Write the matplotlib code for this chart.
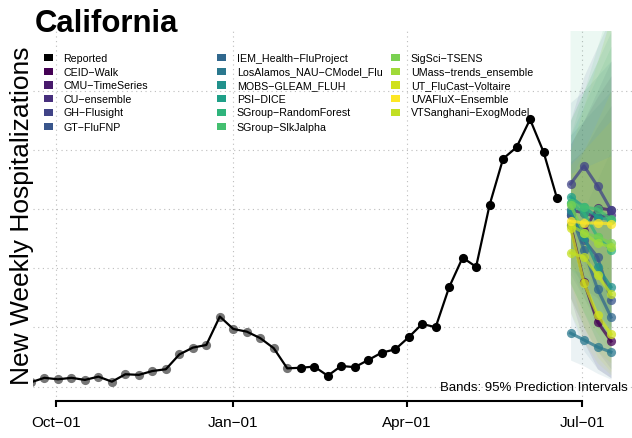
import matplotlib
matplotlib.use('Agg')
import matplotlib.pyplot as plt
import matplotlib.dates as mdates
from matplotlib.patches import Rectangle
import pandas as pd

plt.rcParams['font.family'] = ['Liberation Sans', 'DejaVu Sans']

# ---------------- data ----------------
reported_start = '2021-09-18'
reported = [15, 30, 25, 30, 23, 34, 17, 42, 40, 53,
            59, 109, 132, 141, 237, 195, 186, 164, 130, 62,
            64, 68, 37, 70, 66, 90, 115, 126, 167, 212,
            201, 336, 436, 405, 614, 770, 809, 903, 793, 636]
n_older = 20  # first points drawn in grey

forecast_start = '2022-06-25'
models = ['CEID−Walk', 'CMU−TimeSeries', 'CU−ensemble', 'GH−Flusight', 'GT−FluFNP',
          'IEM_Health−FluProject', 'LosAlamos_NAU−CModel_Flu', 'MOBS−GLEAM_FLUH',
          'PSI−DICE', 'SGroup−RandomForest', 'SGroup−SlkJalpha', 'SigSci−TSENS',
          'UMass−trends_ensemble', 'UT_FluCast−Voltaire', 'UVAFluX−Ensemble',
          'VTSanghani−ExogModel']
model_colors = ['#440154', '#481a6c', '#472f7d', '#414487', '#39568c', '#31688e',
                '#2a788e', '#21918c', '#1fa088', '#2fb47c', '#44bf70', '#7ad151',
                '#a0da39', '#d0e11c', '#fde725', '#c2df23']

median = [
    [546, 354, 219, 154],
    [580, 526, 604, 597],
    [597, 587, 573, 580],
    [685, 746, 678, 597],
    [580, 496, 438, 293],
    [587, 462, 330, 235],
    [181, 158, 134, 117],
    [597, 506, 404, 337],
    [641, 607, 573, 563],
    [621, 587, 506, 462],
    [621, 607, 600, 566],
    [614, 519, 506, 485],
    [546, 519, 485, 472],
    [536, 350, 242, 178],
    [560, 553, 553, 550],
    [452, 438, 377, 313],
]
lower95 = [
    [300, 150, 60, 30], [420, 330, 300, 250], [380, 300, 220, 160], [450, 420, 300, 200],
    [300, 200, 120, 60], [250, 120, 60, 30], [90, 70, 45, 25], [350, 250, 150, 100],
    [400, 350, 250, 200], [350, 250, 150, 100], [400, 300, 200, 150], [350, 250, 180, 120],
    [300, 200, 120, 80], [350, 200, 100, 50], [400, 380, 350, 330], [250, 150, 80, 40],
]
upper95 = [
    [820, 900, 980, 1050], [760, 800, 880, 950], [820, 900, 1000, 1100], [900, 1050, 1150, 1250],
    [850, 900, 950, 1000], [960, 1000, 1050, 1100], [500, 600, 700, 800], [850, 950, 1050, 1150],
    [900, 1000, 1100, 1200], [1300, 1500, 1700, 1900], [850, 1000, 1150, 1300], [900, 1000, 1100, 1250],
    [800, 950, 1100, 1250], [750, 800, 850, 900], [720, 740, 760, 780], [700, 800, 900, 1000],
]

tick_dates = ['2021-10-01', '2022-01-01', '2022-04-01', '2022-07-01']
tick_labels = ['Oct−01', 'Jan−01', 'Apr−01', 'Jul−01']
grid_values = [0, 200, 400, 600, 800, 1000]

# ---------------- figure ----------------
W, H = 632, 438
fig = plt.figure(figsize=(W / 100, H / 100), dpi=100)
ax = fig.add_axes([33 / W, 1 - 401 / H, (632 - 33) / W, (401 - 31) / H])

rep_dates = pd.date_range(reported_start, periods=len(reported), freq='7D')
fc_dates = pd.date_range(forecast_start, periods=4, freq='7D')
ticks = pd.to_datetime(tick_dates)

oct1 = mdates.date2num(ticks[0])
ax.set_xlim(oct1 - 11.94, oct1 + 298.9)
ax.set_ylim(-48.3, 1201.6)

# grid
for g in grid_values:
    ax.axhline(g, color='#bdbdbd', lw=0.8, ls=(0, (1, 3.2)), zorder=0)
for t in ticks:
    ax.axvline(t, color='#bdbdbd', lw=0.8, ls=(0, (1, 3.2)), zorder=0)

# bands
for lo, hi, c in zip(lower95, upper95, model_colors):
    ax.fill_between(fc_dates, lo, hi, color=c, alpha=0.09, lw=0, zorder=1)

# reported
ax.plot(rep_dates[:n_older], reported[:n_older], 'o', color='#767676', ms=6.6,
        mec='none', zorder=2)
ax.plot(rep_dates, reported, '-', color='black', lw=1.6, zorder=3)
ax.plot(rep_dates[n_older:], reported[n_older:], 'o', color='black', ms=6.6,
        mec='none', zorder=3)

# forecasts
for med, c in zip(median, model_colors):
    ax.plot(fc_dates, med, '-o', color=c, lw=2.2, ms=6.6, mec='none', alpha=0.75, zorder=4)

# axes styling
for s in ['top', 'right', 'left']:
    ax.spines[s].set_visible(False)
ax.spines['bottom'].set_bounds(mdates.date2num(ticks[0]), mdates.date2num(ticks[-1]))
ax.spines['bottom'].set_linewidth(1.5)
ax.set_yticks([])
ax.set_xticks(ticks)
ax.set_xticklabels(tick_labels)
ax.tick_params(axis='x', length=4, width=1.5, labelsize=11, pad=7)
ax.patch.set_alpha(0)

# texts
fig.text(35 / W, 1 - 32 / H, 'California', fontsize=22.4, fontweight='bold',
         ha='left', va='baseline')
fig.text(22 / W, 1 - 216 / H, 'New Weekly Hospitalizations', fontsize=19,
         rotation=90, ha='center', va='center')
fig.text(628 / W, 1 - 391 / H, 'Bands: 95% Prediction Intervals', fontsize=9.5,
         ha='right', va='baseline')

# legend (three columns, R style)
entries = ['Reported'] + models
entry_colors = ['black'] + model_colors
col_sq_x = [44.3, 217.3, 391]
col_tx_x = [63.3, 236.7, 410.7]
row_y = [57.5, 71.5, 85, 98.7, 112.5, 126.5]
for i, (name, c) in enumerate(zip(entries, entry_colors)):
    col, row = i // 6, i % 6
    y = row_y[row]
    fig.patches.append(Rectangle(((col_sq_x[col]) / W, 1 - (y + 3.6) / H), 8.8 / W, 7.4 / H,
                                 transform=fig.transFigure, color=c, lw=0))
    fig.text(col_tx_x[col] / W, 1 - y / H, name, fontsize=7.7, ha='left', va='center_baseline')

fig.savefig('out.png', dpi=100)
